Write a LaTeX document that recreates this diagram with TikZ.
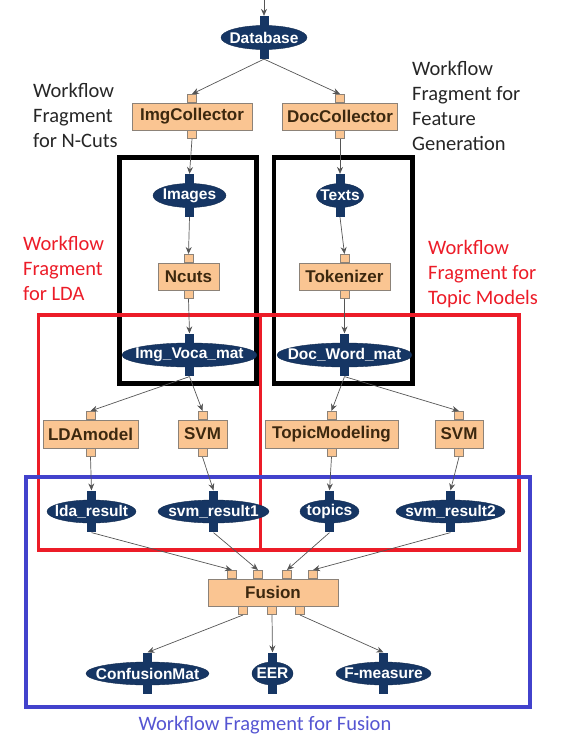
\documentclass[tikz,border=0pt]{standalone}
\usepackage{fontspec}
\setmainfont{Carlito}
\newfontfamily\nodefont{Liberation Sans}
\usetikzlibrary{arrows.meta,shapes.geometric}

\definecolor{navy}{RGB}{22,54,100}
\definecolor{peach}{RGB}{250,197,146}
\definecolor{boxline}{RGB}{140,130,120}
\definecolor{tasktext}{RGB}{60,40,15}
\definecolor{edgecol}{RGB}{85,85,85}
\definecolor{fragred}{RGB}{236,28,40}
\definecolor{fragblue}{RGB}{66,66,204}
\definecolor{labelblue}{RGB}{85,85,210}

\tikzset{
  % data items: the ellipse keeps its given size, the name is set as a centred label
  data/.style={ellipse, fill=navy, draw=navy!80!black, inner sep=0pt,
    minimum height=24pt, label={[datatext]center:#1}},
  datatext/.style={text=white, inner sep=0pt,
    font=\nodefont\bfseries\fontsize{15.5}{15.5}\selectfont},
  task/.style={rectangle, fill=peach, draw=boxline, line width=0.8pt, text=tasktext,
    inner sep=0pt, minimum height=27pt, font=\nodefont\bfseries\fontsize{17}{17}\selectfont},
  dport/.style={rectangle, fill=navy, draw=none, minimum width=9pt, minimum height=10pt, inner sep=0pt},
  tport/.style={rectangle, fill=peach, draw=boxline, line width=0.6pt, minimum width=9pt, minimum height=8pt, inner sep=0pt},
  edge/.style={draw=edgecol, line width=0.7pt, -{Stealth[length=7pt,width=6pt]}},
  frameblack/.style={draw=black, line width=4.5pt},
  framered/.style={draw=fragred, line width=3.5pt},
  frameblue/.style={draw=fragblue, line width=3.5pt},
  fraglabel/.style={anchor=north west, align=left, inner sep=0pt,
    font=\fontsize{20.5}{25}\selectfont}
}

\begin{document}
\begin{tikzpicture}[x=1pt,y=-1pt]
\useasboundingbox (0,0) rectangle (564,737);

% fragment frames
\draw[frameblack] (119.5,157.5) rectangle (256.5,383.5);
\draw[frameblack] (274,157.5) rectangle (412.5,383.5);
\draw[framered] (38.5,315) rectangle (519,550);
\draw[framered] (260.5,315) -- (260.5,550);
\draw[frameblue] (26,477) rectangle (530,707);

% data items
\node[data=Database, minimum width=86pt] (db) at (264,37.5) {};
\node[data=Images, minimum width=73pt] (images) at (189.5,195.5) {};
\node[data=Texts, minimum width=47pt] (texts) at (340,195.5) {};
\node[data=Img\_Voca\_mat, minimum width=135pt] (ivm) at (189.5,355) {};
\node[data=Doc\_Word\_mat, minimum width=135pt] (dwm) at (344.5,355) {};
\node[data=lda\_result, minimum width=89pt, minimum height=23pt] (ldar) at (91.5,511.5) {};
\node[data=svm\_result1, minimum width=111pt, minimum height=23pt] (svmr1) at (213.5,511.5) {};
\node[data=topics, minimum width=59pt, minimum height=23pt] (topics) at (329.5,511.5) {};
\node[data=svm\_result2, minimum width=109pt, minimum height=23pt] (svmr2) at (450.5,511.5) {};
\node[data=ConfusionMat, minimum width=123pt, minimum height=23pt] (cmat) at (147.5,673.5) {};
\node[data=EER, minimum width=41pt, minimum height=23pt] (eer) at (272.5,673.5) {};
\node[data=F-measure, minimum width=95pt, minimum height=23pt] (fmeas) at (383.5,673.5) {};

% tasks
\node[task, minimum width=120pt] (imgc) at (192,116.5) {ImgCollector};
\node[task, minimum width=115pt] (docc) at (340,116.5) {DocCollector};
\node[task, minimum width=61pt] (ncuts) at (188.5,276.5) {Ncuts};
\node[task, minimum width=91pt] (tok) at (344.5,276.5) {Tokenizer};
\node[task, minimum width=95pt, minimum height=28pt] (lda) at (90.5,434) {LDAmodel};
\node[task, minimum width=49pt, minimum height=28pt] (svma) at (202.5,434) {SVM};
\node[task, minimum width=133pt, minimum height=28pt] (topm) at (331.5,434) {TopicModeling};
\node[task, minimum width=48pt, minimum height=28pt] (svmb) at (459,434) {SVM};
\node[task, minimum width=130pt] (fusion) at (273,592.5) {Fusion};

% ports on data items
\foreach \n in {db,images,texts,ivm,dwm,ldar,svmr1,topics,svmr2,cmat,eer,fmeas}{
  \node[dport, anchor=south] (\n-t) at ([yshift=-1pt]\n.north) {};
  \node[dport, anchor=north] (\n-b) at ([yshift=1pt]\n.south) {};
}
% ports on tasks
\foreach \n in {imgc,docc,ncuts,tok,lda,svma,topm,svmb}{
  \node[tport, anchor=south] (\n-t) at (\n.north) {};
  \node[tport, anchor=north] (\n-b) at (\n.south) {};
}
\node[tport, anchor=south] (fus-i1) at ([xshift=-41pt]fusion.north) {};
\node[tport, anchor=south] (fus-i2) at ([xshift=-15pt]fusion.north) {};
\node[tport, anchor=south] (fus-i3) at ([xshift=14pt]fusion.north) {};
\node[tport, anchor=south] (fus-i4) at ([xshift=40pt]fusion.north) {};
\node[tport, anchor=north] (fus-o1) at ([xshift=-30pt]fusion.south) {};
\node[tport, anchor=north] (fus-o2) at ([xshift=-1pt]fusion.south) {};
\node[tport, anchor=north] (fus-o3) at ([xshift=27pt]fusion.south) {};

% incoming data
\coordinate (src) at (264,0);
\draw[edge] (src) -- (db-t.north);

% connectors
\draw[edge] (db-b.south) -- (imgc-t.north);
\draw[edge] (db-b.south) -- (docc-t.north);
\draw[edge] (imgc-b.south) -- (images-t.north);
\draw[edge] (images-b.south) -- (ncuts-t.north);
\draw[edge] (ncuts-b.south) -- (ivm-t.north);
\draw[edge] (docc-b.south) -- (texts-t.north);
\draw[edge] (texts-b.south) -- (tok-t.north);
\draw[edge] (tok-b.south) -- (dwm-t.north);
\draw[edge] (ivm-b.south) -- (lda-t.north);
\draw[edge] (ivm-b.south) -- (svma-t.north);
\draw[edge] (dwm-b.south) -- (topm-t.north);
\draw[edge] (dwm-b.south) -- (svmb-t.north);
\draw[edge] (lda-b.south) -- (ldar-t.north);
\draw[edge] (svma-b.south) -- (svmr1-t.north);
\draw[edge] (topm-b.south) -- (topics-t.north);
\draw[edge] (svmb-b.south) -- (svmr2-t.north);
\draw[edge] (ldar-b.south) -- (fus-i1.north);
\draw[edge] (svmr1-b.south) -- (fus-i2.north);
\draw[edge] (topics-b.south) -- (fus-i3.north);
\draw[edge] (svmr2-b.south) -- (fus-i4.north);
\draw[edge] (fus-o1.south) -- (cmat-t.north);
\draw[edge] (fus-o2.south) -- (eer-t.north);
\draw[edge] (fus-o3.south) -- (fmeas-t.north);

% fragment labels
\node[fraglabel, text=black!85] (lblncuts) at (33,83) {Workflow\\Fragment\\for N-Cuts};
\node[fraglabel, text=black!85] (lblfeat) at (412,61) {Workflow\\Fragment for\\Feature\\Generation};
\node[fraglabel, text=fragred] (lbllda) at (23,236) {Workflow\\Fragment\\for LDA};
\node[fraglabel, text=fragred] (lbltopic) at (428,240) {Workflow\\Fragment for\\Topic Models};
\node[anchor=center, inner sep=0pt, text=labelblue, font=\fontsize{20.5}{25}\selectfont] (lblfusion) at (265,725) {Workflow Fragment for Fusion};
\end{tikzpicture}
\end{document}
